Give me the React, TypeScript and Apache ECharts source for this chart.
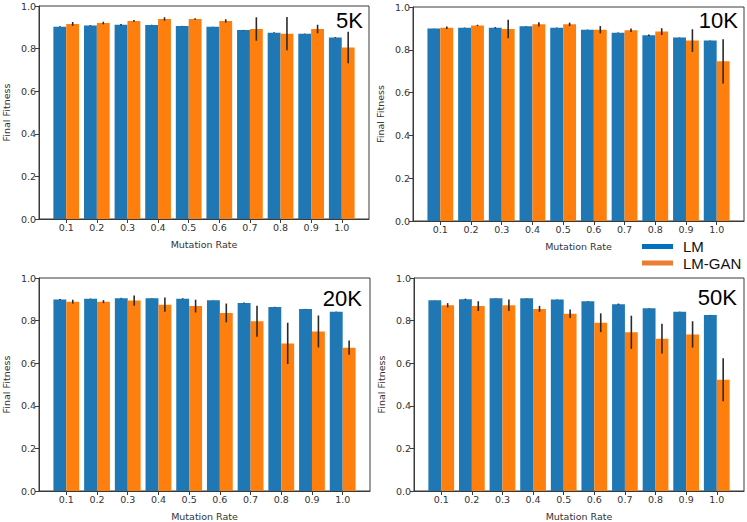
import React, { useEffect, useRef } from "react";
import * as echarts from "echarts";

const categories = ["0.1", "0.2", "0.3", "0.4", "0.5", "0.6", "0.7", "0.8", "0.9", "1.0"];
const panelLabels = ["5K", "10K", "20K", "50K"];
const seriesNames = ["LM", "LM-GAN"];

const lm5K = [0.903, 0.908, 0.912, 0.911, 0.906, 0.903, 0.887, 0.875, 0.870, 0.852];
const lmGan5K = [0.916, 0.920, 0.930, 0.939, 0.939, 0.930, 0.892, 0.870, 0.892, 0.805];
const lmErr5K = [0.002, 0.002, 0.003, 0.001, 0.001, 0.001, 0.001, 0.002, 0.001, 0.002];
const lmGanErr5K = [0.009, 0.006, 0.004, 0.008, 0.003, 0.008, 0.055, 0.078, 0.020, 0.074];

const lm10K = [0.899, 0.903, 0.903, 0.910, 0.903, 0.894, 0.880, 0.868, 0.857, 0.843];
const lmGan10K = [0.903, 0.914, 0.897, 0.919, 0.919, 0.894, 0.891, 0.885, 0.843, 0.746];
const lmErr10K = [0.001, 0.001, 0.003, 0.001, 0.001, 0.001, 0.001, 0.003, 0.001, 0.001];
const lmGanErr10K = [0.006, 0.003, 0.043, 0.010, 0.008, 0.017, 0.008, 0.016, 0.053, 0.103];

const lm20K = [0.899, 0.903, 0.905, 0.905, 0.903, 0.896, 0.883, 0.864, 0.854, 0.841];
const lmGan20K = [0.889, 0.889, 0.894, 0.875, 0.868, 0.836, 0.797, 0.693, 0.749, 0.673];
const lmErr20K = [0.002, 0.001, 0.002, 0.001, 0.002, 0.001, 0.002, 0.001, 0.001, 0.001];
const lmGanErr20K = [0.009, 0.007, 0.024, 0.033, 0.030, 0.044, 0.073, 0.097, 0.075, 0.033];

const lm50K = [0.896, 0.900, 0.905, 0.905, 0.899, 0.891, 0.877, 0.858, 0.841, 0.826];
const lmGan50K = [0.872, 0.868, 0.872, 0.855, 0.832, 0.790, 0.745, 0.715, 0.735, 0.522];
const lmErr50K = [0.001, 0.003, 0.001, 0.001, 0.001, 0.001, 0.003, 0.001, 0.001, 0.001];
const lmGanErr50K = [0.010, 0.023, 0.027, 0.014, 0.020, 0.044, 0.078, 0.070, 0.062, 0.101];

const panels = [
  { label: panelLabels[0], lm: lm5K, gan: lmGan5K, lmErr: lmErr5K, ganErr: lmGanErr5K },
  { label: panelLabels[1], lm: lm10K, gan: lmGan10K, lmErr: lmErr10K, ganErr: lmGanErr10K },
  { label: panelLabels[2], lm: lm20K, gan: lmGan20K, lmErr: lmErr20K, ganErr: lmGanErr20K },
  { label: panelLabels[3], lm: lm50K, gan: lmGan50K, lmErr: lmErr50K, ganErr: lmGanErr50K },
];

const grids = [
  { left: 39, top: 6, width: 330, height: 213 },
  { left: 413, top: 7, width: 331, height: 214 },
  { left: 39, top: 278, width: 331, height: 214 },
  { left: 414, top: 278, width: 330, height: 214 },
];
const labelPos = [
  { x: 363, y: 20 },
  { x: 738, y: 20 },
  { x: 362, y: 298 },
  { x: 737, y: 297 },
];

const BLUE = "#1f77b4";
const ORANGE = "#ff7f0e";
const BAR_W = 0.42;
const AX = "#3a3a3a";
const FONT = "DejaVu Sans";

function barRender(offset: number, color: string) {
  return (params: any, api: any) => {
    const x = api.value(0) as number;
    const y = api.value(1) as number;
    const tl = api.coord([x + offset - BAR_W / 2, y]);
    const br = api.coord([x + offset + BAR_W / 2, 0]);
    return {
      type: "rect",
      shape: { x: tl[0], y: tl[1], width: br[0] - tl[0], height: br[1] - tl[1] },
      style: { fill: color },
    };
  };
}

function errRender(offset: number) {
  return (params: any, api: any) => {
    const x = api.value(0) as number;
    const p1 = api.coord([x + offset, api.value(1)]);
    const p2 = api.coord([x + offset, api.value(2)]);
    return {
      type: "line",
      shape: { x1: p1[0], y1: p1[1], x2: p2[0], y2: p2[1] },
      style: { stroke: "#2a2a2a", lineWidth: 1.6 },
    };
  };
}

export default function App() {
  const ref = useRef<HTMLDivElement>(null);
  useEffect(() => {
    if (!ref.current) return;
    const chart = echarts.init(ref.current, null, { renderer: "svg" });
    const tickVals = categories.map((_, i) => i);
    const xAxis = grids.map((_, g) => ({
      type: "value",
      gridIndex: g,
      min: -0.89,
      max: 9.89,
      name: "Mutation Rate",
      nameLocation: "middle",
      nameGap: 20,
      nameTextStyle: { fontFamily: FONT, fontSize: 9.5, color: "#333" },
      axisLine: { show: true, onZero: false, lineStyle: { color: AX, width: 1 } },
      axisTick: { show: true, length: 4, customValues: tickVals, lineStyle: { color: AX } },
      axisLabel: {
        customValues: tickVals,
        margin: 3,
        fontFamily: FONT,
        fontSize: 9.5,
        color: "#333",
        formatter: (v: number) => categories[Math.round(v)] ?? "",
      },
      splitLine: { show: false },
    }));
    const yAxis = grids.map((_, g) => ({
      type: "value",
      gridIndex: g,
      min: 0,
      max: 1,
      interval: 0.2,
      name: "Final Fitness",
      nameLocation: "middle",
      nameGap: 28,
      nameTextStyle: { fontFamily: FONT, fontSize: 9.5, color: "#333" },
      axisLine: { show: true, onZero: false, lineStyle: { color: AX, width: 1 } },
      axisTick: { show: true, length: 4, lineStyle: { color: AX } },
      axisLabel: {
        margin: 3,
        fontFamily: FONT,
        fontSize: 9.5,
        color: "#333",
        formatter: (v: number) => v.toFixed(1),
      },
      splitLine: { show: false },
    }));
    const series: any[] = [];
    panels.forEach((p, g) => {
      series.push({
        type: "custom",
        name: seriesNames[0],
        xAxisIndex: g,
        yAxisIndex: g,
        itemStyle: { color: BLUE },
        renderItem: barRender(-BAR_W / 2, BLUE),
        encode: { x: 0, y: 1 },
        data: p.lm.map((v, i) => [i, v]),
      });
      series.push({
        type: "custom",
        name: seriesNames[1],
        xAxisIndex: g,
        yAxisIndex: g,
        itemStyle: { color: ORANGE },
        renderItem: barRender(BAR_W / 2, ORANGE),
        encode: { x: 0, y: 1 },
        data: p.gan.map((v, i) => [i, v]),
      });
      series.push({
        type: "custom",
        name: "err-lm-" + g,
        xAxisIndex: g,
        yAxisIndex: g,
        renderItem: errRender(-BAR_W / 2),
        encode: { x: 0, y: [1, 2] },
        data: p.lm.map((v, i) => [i, v - p.lmErr[i], v + p.lmErr[i]]),
        z: 5,
      });
      series.push({
        type: "custom",
        name: "err-gan-" + g,
        xAxisIndex: g,
        yAxisIndex: g,
        renderItem: errRender(BAR_W / 2),
        encode: { x: 0, y: [1, 2] },
        data: p.gan.map((v, i) => [i, v - p.ganErr[i], v + p.ganErr[i]]),
        z: 5,
      });
    });
    chart.setOption({
      animation: false,
      backgroundColor: "#ffffff",
      grid: grids.map((gr) => ({
        ...gr,
        show: true,
        borderColor: AX,
        borderWidth: 1,
        backgroundColor: "transparent",
      })),
      xAxis,
      yAxis,
      legend: {
        orient: "vertical",
        left: 642,
        top: 239,
        padding: 0,
        itemWidth: 31,
        itemHeight: 5,
        itemGap: 1.5,
        icon: "rect",
        textStyle: {
          fontFamily: "Liberation Sans",
          fontSize: 15,
          lineHeight: 14,
          color: "#111",
          padding: [0, 0, 0, 5],
        },
        data: [
          { name: seriesNames[0], itemStyle: { color: "#0070c0" } },
          { name: seriesNames[1], itemStyle: { color: "#ed7d31" } },
        ],
      },
      graphic: panels.map((p, g) => ({
        type: "text",
        x: labelPos[g].x,
        y: labelPos[g].y,
        z: 10,
        style: {
          text: p.label,
          fontFamily: "Liberation Sans",
          fontSize: 22,
          fill: "#000",
          align: "right",
          verticalAlign: "middle",
        },
      })),
      series,
    });
    return () => chart.dispose();
  }, []);
  return (
    <div
      ref={ref}
      style={{ position: "absolute", left: 0, top: 0, width: 747, height: 522 }}
    />
  );
}
